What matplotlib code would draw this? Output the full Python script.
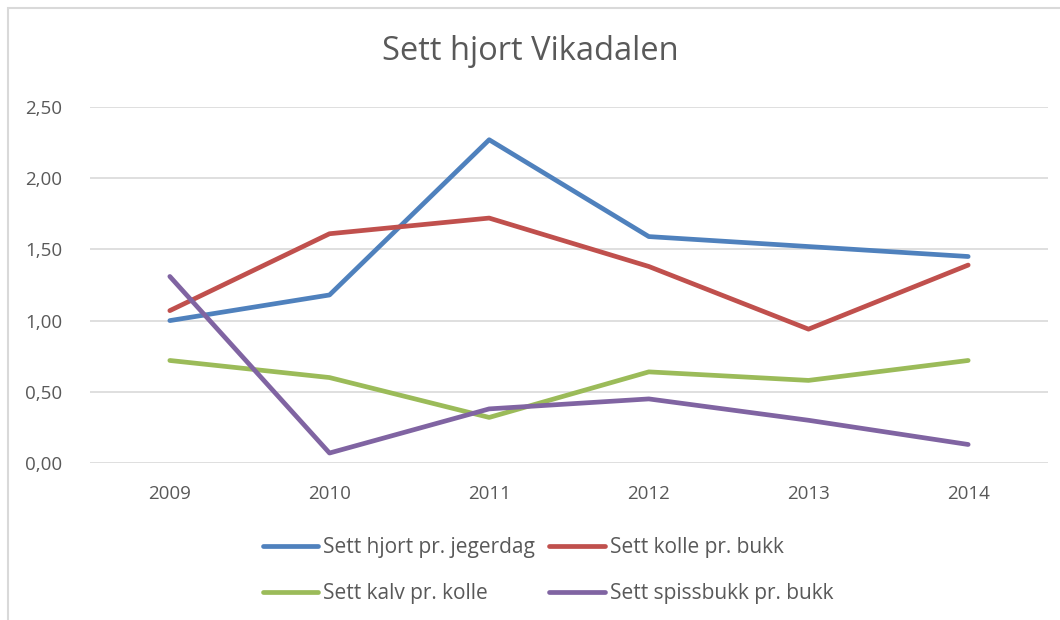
import matplotlib.pyplot as plt
from matplotlib.patches import Rectangle

years = ['2009', '2010', '2011', '2012', '2013', '2014']
hjort_jegerdag = [1.00, 1.18, 2.27, 1.59, 1.52, 1.45]
kolle_bukk = [1.07, 1.61, 1.72, 1.38, 0.94, 1.39]
kalv_kolle = [0.72, 0.60, 0.32, 0.64, 0.58, 0.72]
spissbukk_bukk = [1.31, 0.07, 0.38, 0.45, 0.30, 0.13]

labels = ['Sett hjort pr. jegerdag', 'Sett kolle pr. bukk',
          'Sett kalv pr. kolle', 'Sett spissbukk pr. bukk']
colors = ['#4f81bd', '#c0504d', '#9bbb59', '#8064a2']
series = [hjort_jegerdag, kolle_bukk, kalv_kolle, spissbukk_bukk]

plt.rcParams['font.family'] = ['Open Sans', 'DejaVu Sans']
text_color = '#595959'

fig = plt.figure(figsize=(10.6, 6.2), dpi=100)
ax = fig.add_axes([90 / 1060, 157 / 620, 958 / 1060, 356 / 620])

# chart border
fig.patches.append(Rectangle((8 / 1060, -0.05), 1.1, 1.05 - 8 / 620,
                             transform=fig.transFigure, fill=False,
                             edgecolor='#d9d9d9', linewidth=1.5))

x = range(len(years))
lines = []
for vals, lab, col in zip(series, labels, colors):
    ln, = ax.plot(x, vals, color=col, linewidth=3.4, label=lab,
                  solid_capstyle='round', solid_joinstyle='round')
    lines.append(ln)

ax.set_xlim(-0.5, 5.5)
ax.set_ylim(0, 2.5)
ax.set_yticks([0, 0.5, 1.0, 1.5, 2.0, 2.5])
ax.set_yticklabels([f'{v:.2f}'.replace('.', ',') for v in ax.get_yticks()])
ax.set_xticks(list(x))
ax.set_xticklabels(years)
ax.tick_params(length=0, labelsize=13.5, colors=text_color)
ax.tick_params(axis='x', pad=16)
ax.tick_params(axis='y', pad=20)
ax.grid(axis='y', color='#d9d9d9', linewidth=1.2)
ax.set_axisbelow(True)
for s in ax.spines.values():
    s.set_visible(False)

fig.text(0.5, 1 - 52 / 620, 'Sett hjort Vikadalen', ha='center', va='center',
         fontsize=23.5, color=text_color)

# row-major order like the original: matplotlib fills legend columns first
order = [0, 2, 1, 3]
fig.legend(handles=[lines[i] for i in order], loc='center',
           bbox_to_anchor=(0.517, 1 - 571 / 620),
           ncol=2, frameon=False, fontsize=15, labelcolor=text_color,
           handlelength=2.65, handletextpad=0.25, columnspacing=0.7,
           labelspacing=1.2)

fig.savefig('out.png', dpi=100)
